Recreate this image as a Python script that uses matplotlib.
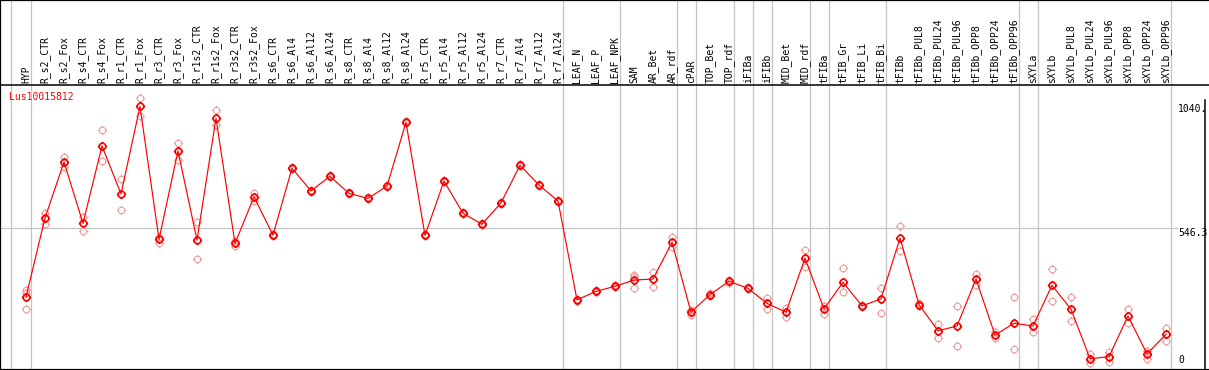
import numpy as np
import matplotlib
matplotlib.use("Agg")
import matplotlib.pyplot as plt
from matplotlib.path import Path

# ---------------- data ----------------
categories = [
    "HYP", "R_s2_CTR", "R_s2_Fox", "R_s4_CTR", "R_s4_Fox", "R_r1_CTR", "R_r1_Fox",
    "R_r3_CTR", "R_r3_Fox", "R_r1s2_CTR", "R_r1s2_Fox", "R_r3s2_CTR", "R_r3s2_Fox",
    "R_s6_CTR", "R_s6_Al4", "R_s6_Al12", "R_s6_Al24", "R_s8_CTR", "R_s8_Al4",
    "R_s8_Al12", "R_s8_Al24", "R_r5_CTR", "R_r5_Al4", "R_r5_Al12", "R_r5_Al24",
    "R_r7_CTR", "R_r7_Al4", "R_r7_Al12", "R_r7_Al24", "LEAF_N", "LEAF_P", "LEAF_NPK",
    "SAM", "AR_Bet", "AR_rdf", "cPAR", "TOP_Bet", "TOP_rdf", "iFIBa", "iFIBb",
    "MID_Bet", "MID_rdf", "tFIBa", "tFIB_Gr", "tFIB_Li", "tFIB_Bi", "tFIBb",
    "tFIBb_PUL8", "tFIBb_PUL24", "tFIBb_PUL96", "tFIBb_OPP8", "tFIBb_OPP24",
    "tFIBb_OPP96", "sXYLa", "sXYLb", "sXYLb_PUL8", "sXYLb_PUL24", "sXYLb_PUL96",
    "sXYLb_OPP8", "sXYLb_OPP24", "sXYLb_OPP96",
]

mean_values = [
    271, 586, 809, 565, 873, 682, 1030, 501, 853, 498, 983, 485, 670,
    518, 784, 694, 752, 684, 664, 713, 967, 517, 733, 605, 561,
    646, 796, 717, 654, 260, 294, 314,
    339, 343, 489, 211, 281, 334, 306, 246,
    211, 426, 224, 330, 236, 264, 506,
    241, 137, 156, 343, 120, 167,
    156, 318, 223, 26, 34, 196, 45, 123,
]

rep_high = [
    299, 607, 830, 591, 936, 740, 1062, 512, 885, 571, 1016, 496, 684,
    522, 788, 698, 756, 688, 668, 717, 971, 521, 737, 609, 565,
    650, 800, 721, 658, 264, 298, 318,
    360, 372, 509, 220, 286, 340, 310, 269,
    229, 459, 237, 386, 241, 306, 553,
    246, 163, 235, 363, 131, 270,
    183, 382, 270, 45, 53, 223, 58, 147,
]

rep_low = [
    223, 562, 788, 535, 812, 618, 992, 488, 817, 422, 956, 475, 655,
    514, 780, 690, 748, 680, 660, 709, 963, 513, 729, 601, 557,
    642, 792, 713, 650, 256, 290, 310,
    309, 313, 472, 200, 276, 329, 302, 224,
    193, 392, 204, 293, 231, 207, 456,
    236, 110, 76, 318, 108, 63,
    133, 254, 175, 8, 14, 167, 26, 98,
]

nan = np.nan
rep_third = [nan] * len(categories)
rep_third[0] = 287    # HYP
rep_third[32] = 351   # SAM

gene_name = "Lus10015812"
y_tick_values = [1040.0, 546.3, 0.0]
y_tick_labels = ["1040.", "546.3", "0"]
group_end_index = [0, 28, 31, 34, 35, 37, 38, 39, 41, 42, 45, 52, 53, 60]

# ---------------- layout helpers (pixel geometry) ----------------
W, H = 1209, 370
X0, DX = 26.0, 19.0           # pixel x of first category, spacing
Y_ZERO, PX_PER_UNIT = 365.2, 0.2512


def px_to_x(px):
    return (px - X0) / DX


def py_to_v(py):
    return (Y_ZERO - py) / PX_PER_UNIT


fig = plt.figure(figsize=(W / 100, H / 100), dpi=100)
ax = fig.add_axes([0, 0, 1, 1])
ax.set_xlim(px_to_x(0), px_to_x(W))
ax.set_ylim(py_to_v(H), py_to_v(0))
ax.set_xticks([])
ax.set_yticks([])
for s in ax.spines.values():
    s.set_color("black")
    s.set_linewidth(1.6)
ax.spines["right"].set_visible(False)

mono = "DejaVu Sans Mono"
grid_col = "#c4c4c4"

# separators
ax.axvline(px_to_x(10.7), color=grid_col, lw=0.9, zorder=1)
for k in group_end_index:
    ax.axvline(k + 0.25, color=grid_col, lw=0.9, zorder=1)
ax.axhline(546.3, xmin=0, xmax=1177 / W, color=grid_col, lw=0.9, zorder=1)

# header separator and right frame
ax.axhline(py_to_v(85), color="black", lw=1.1, zorder=2)
ax.axvline(px_to_x(1205), ymin=0, ymax=(H - 100) / H, color="black", lw=1.1, zorder=2)

# category labels
xs = np.arange(len(categories))
for i, name in enumerate(categories):
    ax.text(i, py_to_v(83), name, rotation=90, ha="center", va="bottom",
            fontsize=7, family=mono, color="black")

# y labels
for v, lab in zip(y_tick_values, y_tick_labels):
    ax.text(px_to_x(1178), v, lab, ha="left",
            va="bottom" if v == 0 else "top",
            fontsize=7, family=mono, color="black")

ax.text(px_to_x(9), py_to_v(97), gene_name, ha="left", va="center",
        fontsize=7, family=mono, color="#ff0000")

# custom marker: circle with four stubs
circ = Path.unit_circle()
stub_len = 1.4
stub_verts = [(0, 1), (0, stub_len), (0, -1), (0, -stub_len),
              (1, 0), (stub_len, 0), (-1, 0), (-stub_len, 0)]
stub_codes = [Path.MOVETO, Path.LINETO] * 4
stubs = Path(stub_verts, stub_codes)
sun = Path.make_compound_path(circ, stubs)

pale = "#f0a0a0"
for reps in (rep_high, rep_low, rep_third):
    ax.plot(xs, reps, linestyle="none", marker=sun, markersize=6.6,
            markerfacecolor="none", markeredgecolor=pale, markeredgewidth=0.8,
            zorder=3)

ax.plot(xs, mean_values, color="#ff0000", lw=0.85, zorder=4)
ax.plot(xs, mean_values, linestyle="none", marker=sun, markersize=6.6,
        markerfacecolor="none", markeredgecolor="#ff0000", markeredgewidth=1.2,
        zorder=5)

fig.savefig("out.png", dpi=100)
